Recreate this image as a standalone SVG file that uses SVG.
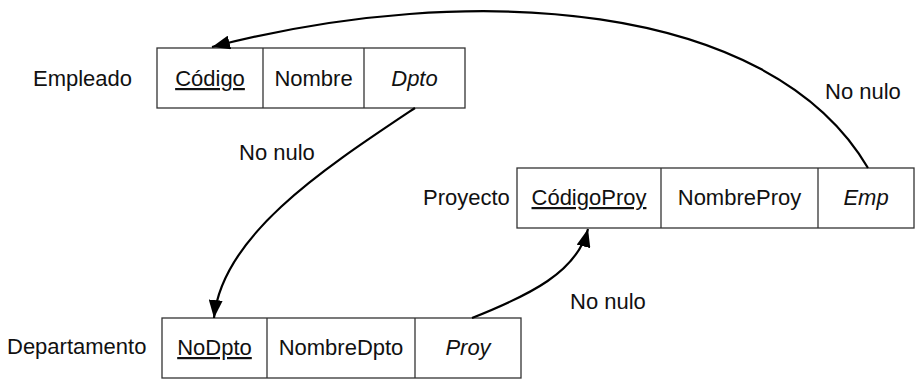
<svg xmlns="http://www.w3.org/2000/svg" width="918" height="379" viewBox="0 0 918 379">
<defs>
<style>
text{font-family:"Liberation Sans",Arial,sans-serif;font-size:22px;fill:#111}
.c{text-anchor:middle}
.u{text-decoration:underline}
.i{font-style:italic}
.box{fill:#fff;stroke:#333;stroke-width:1.3}
.div{stroke:#333;stroke-width:1.3}
.arr{fill:none;stroke:#000;stroke-width:2.2;marker-end:url(#ah)}
</style>
<marker id="ah" markerUnits="userSpaceOnUse" markerWidth="20" markerHeight="14" refX="18" refY="7" orient="auto">
<path d="M0,0 L18,7 L0,14 Z" fill="#000"/>
</marker>
</defs>
<rect width="918" height="379" fill="#fff"/>
<g id="empleado">
<text x="33" y="86">Empleado</text>
<rect class="box" x="157" y="48" width="308" height="60"/>
<line class="div" x1="263" y1="48" x2="263" y2="108"/>
<line class="div" x1="364" y1="48" x2="364" y2="108"/>
<text class="c u" x="210" y="86">Código</text>
<text class="c" x="313.5" y="86">Nombre</text>
<text class="c i" x="414.5" y="86">Dpto</text>
</g>
<g id="proyecto">
<text x="423" y="205">Proyecto</text>
<rect class="box" x="517" y="168" width="397" height="60"/>
<line class="div" x1="661" y1="168" x2="661" y2="228"/>
<line class="div" x1="818" y1="168" x2="818" y2="228"/>
<text class="c u" x="589" y="205">CódigoProy</text>
<text class="c" x="739.5" y="205">NombreProy</text>
<text class="c i" x="866" y="205">Emp</text>
</g>
<g id="departamento">
<text x="7" y="354">Departamento</text>
<rect class="box" x="162" y="318" width="359" height="60"/>
<line class="div" x1="267" y1="318" x2="267" y2="378"/>
<line class="div" x1="415" y1="318" x2="415" y2="378"/>
<text class="c u" x="214.5" y="355">NoDpto</text>
<text class="c" x="341" y="355">NombreDpto</text>
<text class="c i" x="468" y="355">Proy</text>
</g>
<g id="connectors">
<path class="arr" d="M868,168 C770,0 470,-20 212,47"/>
<path class="arr" d="M415,108 C325,168 222,235 214,318"/>
<path class="arr" d="M472,318 C530,295 577,272 588,229"/>
<text x="825" y="99">No nulo</text>
<text x="239" y="160">No nulo</text>
<text x="570" y="309">No nulo</text>
</g>
</svg>
